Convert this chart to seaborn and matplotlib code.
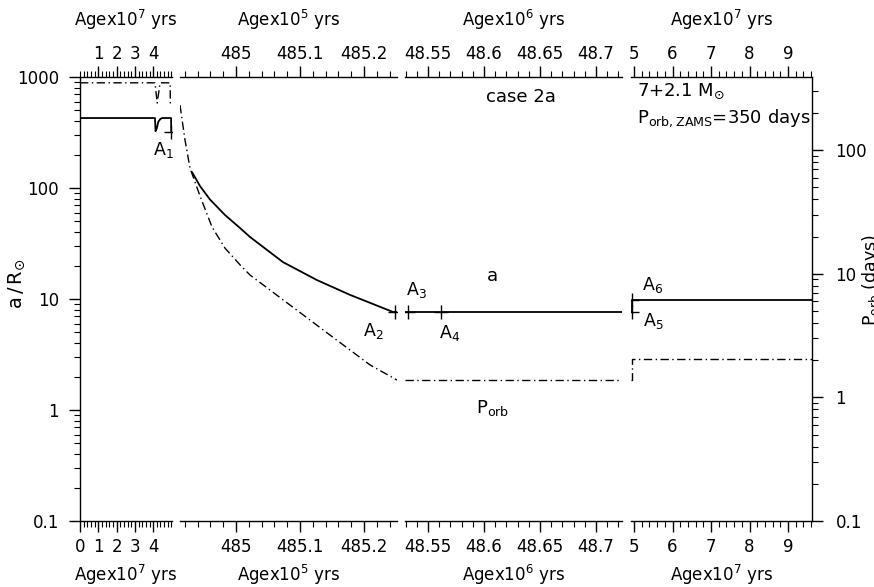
import matplotlib
matplotlib.use("Agg")
import matplotlib.pyplot as plt
import seaborn as sns
import pandas as pd
from matplotlib.ticker import MultipleLocator, FixedLocator, LogLocator, FuncFormatter, NullFormatter

# ---------------- data ----------------
# Panel 1 : Age x 10^7 yrs
p1_age_a = [0.0, 4.10, 4.13, 4.20, 4.28, 4.40, 4.50, 4.98, 4.99]
p1_sep   = [427, 427, 325, 345, 395, 420, 427, 427, 321]
p1_age_p = [0.0, 4.10, 4.16, 4.22, 4.38, 4.93, 4.94]
p1_porb  = [350, 350, 290, 240, 350, 350, 231]

# Panel 2 : Age x 10^5 yrs
p2_age_a = [484.9313, 484.9438, 484.9594, 484.9828, 485.0063, 485.0219, 485.0734,
            485.1266, 485.1781, 485.2297, 485.2453, 485.2516]
p2_sep   = [139, 104, 78.7, 57.1, 43.6, 36.2, 21.5, 14.8, 10.9, 8.3, 7.64, 7.64]
p2_age_p = [484.9125, 484.9203, 484.9281, 484.9438, 484.9625, 484.9828, 485.0063,
            485.0219, 485.0844, 485.1469, 485.2094, 485.2516]
p2_porb  = [231, 120.6, 71.6, 42.5, 23.9, 16.1, 11.8, 9.76, 5.58, 3.19, 1.83, 1.38]

# Panel 3 : Age x 10^6 yrs
p3_age   = [48.5295, 48.7232]
p3_sep   = [7.64, 7.64]
p3_porb  = [1.38, 1.38]

# Panel 4 : Age x 10^7 yrs
p4_age   = [4.922, 4.948, 4.948, 9.62]
p4_sep   = [7.64, 7.64, 9.8, 9.8]
p4_porb  = [1.38, 1.38, 2.06, 2.06]

# Marked points A1..A6
mark_names = ["A1", "A2", "A3", "A4", "A5", "A6"]
mark_panel = [0, 1, 2, 2, 3, 3]
mark_age   = [4.99, 485.2484, 48.5321, 48.5616, 4.948, 4.948]
mark_sep   = [321, 7.64, 7.64, 7.64, 7.64, 9.8]

panel_xlabels = ["Agex10$^7$ yrs", "Agex10$^5$ yrs", "Agex10$^6$ yrs", "Agex10$^7$ yrs"]

# ---------------- style ----------------
sns.set_theme(style="white")
plt.rcParams['font.family'] = ['DejaVu Sans']
plt.rcParams.update({
    'axes.edgecolor': 'black', 'axes.linewidth': 1.0,
    'text.color': 'black', 'axes.labelcolor': 'black',
    'xtick.color': 'black', 'ytick.color': 'black',
    'mathtext.fontset': 'dejavusans',
})

W, H = 874, 587
fig = plt.figure(figsize=(W / 100, H / 100), dpi=100)

def box(x0, x1, y0=77, y1=521):
    return [x0 / W, (H - y1) / H, (x1 - x0) / W, (y1 - y0) / H]

def ftxt(x, y, s, size=12, **kw):
    fig.text(x / W, 1 - y / H, s, fontsize=size, **kw)

px = [(80, 172), (180, 397), (405, 622), (631, 812)]
xlims = [(0, 5.03), (484.9125, 485.2516), (48.5295, 48.7232), (4.922, 9.623)]
minor = [0.2, 0.02, 0.01, 0.2]
bottom_ticks = [[0, 1, 2, 3, 4], [485.0, 485.1, 485.2], [48.55, 48.6, 48.65, 48.7], [5, 6, 7, 8, 9]]
top_ticks = [[1, 2, 3, 4], [485.0, 485.1, 485.2], [48.55, 48.6, 48.65, 48.7], [5, 6, 7, 8, 9]]

series = [
    (p1_age_a, p1_sep, p1_age_p, p1_porb),
    (p2_age_a, p2_sep, p2_age_p, p2_porb),
    (p3_age, p3_sep, p3_age, p3_porb),
    (p4_age, p4_sep, p4_age, p4_porb),
]

fmt = FuncFormatter(lambda v, p: f"{v:g}")
dashdot = (0, (6, 2.5, 1, 2.5))

for i in range(4):
    ax = fig.add_axes(box(*px[i]))
    ax.set_facecolor('none')
    ax.set_yscale('log')
    ax.set_ylim(0.1, 1000)
    ax.set_xlim(*xlims[i])
    tw = ax.twinx()
    tw.set_yscale('log')
    tw.set_ylim(0.1, 390)

    ta, sa, tp, pp = series[i]
    da = pd.DataFrame({'age': ta, 'a': sa})
    dp = pd.DataFrame({'age': tp, 'P': pp})
    sns.lineplot(data=da, x='age', y='a', ax=ax, color='black', lw=1.3,
                 sort=False, estimator=None)
    sns.lineplot(data=dp, x='age', y='P', ax=tw, color='black', lw=1.0,
                 sort=False, estimator=None, linestyle=dashdot)
    mx = [mark_age[k] for k in range(6) if mark_panel[k] == i]
    my = [mark_sep[k] for k in range(6) if mark_panel[k] == i]
    if mx:
        sns.scatterplot(x=mx, y=my, ax=ax, marker='+', s=100, color='black',
                        linewidth=1.0, zorder=5)
    ax.set_xlabel(panel_xlabels[i], fontsize=12, labelpad=5)
    ax.set_ylabel('')
    tw.set_ylabel('')

    ax.xaxis.set_major_locator(FixedLocator(bottom_ticks[i]))
    ax.xaxis.set_minor_locator(MultipleLocator(minor[i]))
    ax.xaxis.set_major_formatter(fmt)
    ax.tick_params(axis='x', which='major', direction='out', length=8, width=1,
                   labelsize=12, pad=4, top=False, bottom=True)
    ax.tick_params(axis='x', which='minor', direction='out', length=4, width=0.8,
                   top=False, bottom=True)
    sec = ax.secondary_xaxis('top')
    sec.xaxis.set_major_locator(FixedLocator(top_ticks[i]))
    sec.xaxis.set_minor_locator(MultipleLocator(minor[i]))
    sec.xaxis.set_major_formatter(fmt)
    sec.tick_params(axis='x', which='major', direction='out', length=8, width=1,
                    labelsize=12, pad=2)
    sec.tick_params(axis='x', which='minor', direction='out', length=4, width=0.8)
    sec.set_xlabel(panel_xlabels[i], fontsize=12, labelpad=14)

    for s in ['top', 'right', 'left']:
        ax.spines[s].set_visible(False)
    for s in ['top', 'bottom', 'left', 'right']:
        tw.spines[s].set_visible(False)

    if i == 0:
        ax.spines['left'].set_visible(True)
        ax.yaxis.set_major_locator(LogLocator(base=10, numticks=10))
        ax.yaxis.set_minor_locator(LogLocator(base=10, subs=range(2, 10), numticks=20))
        ax.yaxis.set_major_formatter(fmt)
        ax.yaxis.set_minor_formatter(NullFormatter())
        ax.tick_params(axis='y', which='major', direction='out', length=8, width=1,
                       labelsize=12, pad=7, left=True, right=False)
        ax.tick_params(axis='y', which='minor', direction='out', length=4, width=0.8,
                       left=True, right=False)
    else:
        ax.tick_params(axis='y', which='both', left=False, labelleft=False,
                       right=False, labelright=False)
    if i == 3:
        tw.spines['right'].set_visible(True)
        tw.yaxis.set_major_locator(LogLocator(base=10, numticks=10))
        tw.yaxis.set_minor_locator(LogLocator(base=10, subs=range(2, 10), numticks=20))
        tw.yaxis.set_major_formatter(fmt)
        tw.yaxis.set_minor_formatter(NullFormatter())
        tw.tick_params(axis='y', which='major', direction='out', length=8, width=1,
                       labelsize=12, pad=9, right=True, left=False)
        tw.tick_params(axis='y', which='minor', direction='out', length=4, width=0.8,
                       right=True, left=False)
    else:
        tw.tick_params(axis='y', which='both', left=False, labelleft=False,
                       right=False, labelright=False)

# annotation texts
ftxt(521, 97, "case 2a", size=13, ha='center', va='center')
ftxt(637, 91, "7+2.1 M$_{\\odot}$", size=13, ha='left', va='center')
ftxt(637, 118, "P$_{\\rm orb,ZAMS}$=350 days", size=13, ha='left', va='center')
ftxt(492, 276, "a", size=13, ha='center', va='center')
ftxt(476, 408, "P$_{\\rm orb}$", size=13, ha='left', va='center')
label_pos = [(163, 150), (373, 331), (416, 290), (450, 333), (653, 321), (653, 285)]
for name, (lx, ly) in zip(mark_names, label_pos):
    ftxt(lx, ly, f"{name[0]}$_{name[1]}$", size=12.5, ha='center', va='center')

fig.text(17 / W, 1 - 284 / H, "$\\mathrm{a}\\,/\\,\\mathrm{R}_{\\odot}$", fontsize=14,
         rotation=90, ha='center', va='center')
fig.text(876 / W, 1 - 280 / H, "P$_{\\rm orb}$ (days)", fontsize=12.5, rotation=90,
         rotation_mode='anchor', ha='center', va='baseline')

fig.savefig("out.png", dpi=100)
